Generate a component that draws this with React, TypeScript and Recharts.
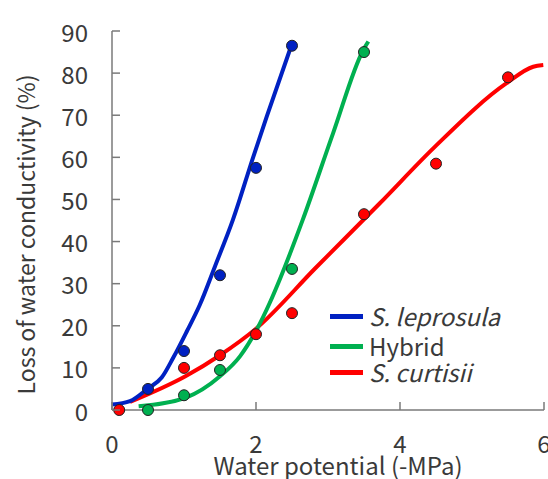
import { ComposedChart, Line, Scatter, XAxis, YAxis } from "recharts";

// measured points
const leprosulaX = [0.5, 1, 1.5, 2, 2.5];
const leprosulaY = [5, 14, 32, 57.5, 86.5];
const hybridX = [0.5, 1, 1.5, 2.5, 3.5];
const hybridY = [0, 3.5, 9.5, 33.5, 85];
const curtisiiX = [0.1, 1, 1.5, 2, 2.5, 3.5, 4.5, 5.5];
const curtisiiY = [0, 10, 13, 18, 23, 46.5, 58.5, 79];

// fitted curves
const leprosulaFitX = [0, 0.25, 0.5, 0.69, 0.85, 1.04, 1.22, 1.43, 1.68, 1.96, 2.15, 2.49];
const leprosulaFitY = [1.3, 2.1, 5.1, 7.7, 12.4, 18.7, 25, 34.1, 45.2, 60, 69.7, 86.5];
const hybridFitX = [0.37, 1.02, 1.5, 1.78, 2.01, 2.19, 2.33, 2.65, 3.07, 3.49, 3.56];
const hybridFitY = [0.9, 2.9, 8, 12.8, 19.1, 25.4, 31, 45.2, 65.7, 85.5, 87.5];
const curtisiiFitX = [0.25, 1.02, 1.5, 2.0, 2.82, 3.72, 4.49, 5.48, 5.85, 5.99];
const curtisiiFitY = [1.9, 8, 13, 19.3, 33.6, 49.1, 62.6, 77.6, 81.5, 81.9];

const xTicks = [0, 2, 4, 6];
const yTicks = [0, 10, 20, 30, 40, 50, 60, 70, 80, 90];
const seriesNames = ["S. leprosula", "Hybrid", "S. curtisii"];

const BLUE = "#0021C2";
const GREEN = "#00B050";
const RED = "#FF0000";
const AXIS = "#7a7a7a";
const TEXT = "#3a3a3a";
const FONT = "'Noto Sans CJK JP', 'Noto Sans', sans-serif";

const zip = (xs: number[], ys: number[]) => xs.map((x, i) => ({ x, y: ys[i] }));

const dot = (fill: string) => (p: any) => (
  <circle cx={p.cx} cy={p.cy} r={5.5} fill={fill} stroke="#222" strokeWidth={1} />
);

const YTick = ({ x, y, payload }: any) => (
  <g>
    <line x1={x} x2={x + 8} y1={y} y2={y} stroke={AXIS} strokeWidth={1.5} />
    <text x={x - 24} y={y} textAnchor="end" dominantBaseline="central" fontSize={24} fill={TEXT} fontFamily={FONT}>
      {payload.value}
    </text>
  </g>
);

const XTick = ({ x, y, payload }: any) => (
  <g>
    <line x1={x} x2={x} y1={y - 8} y2={y} stroke={AXIS} strokeWidth={1.5} />
    <text x={x} y={y + 32} textAnchor="middle" dominantBaseline="central" fontSize={24} fill={TEXT} fontFamily={FONT}>
      {payload.value}
    </text>
  </g>
);

const legendColors = [BLUE, GREEN, RED];
const legendTops = [316, 346, 372];

export default function App() {
  return (
    <div style={{ position: "absolute", left: 0, top: 0, width: 548, height: 479, fontFamily: FONT }}>
      <ComposedChart width={548} height={479} margin={{ top: 31, right: 4, bottom: 0, left: 0 }}>
        <XAxis
          type="number"
          dataKey="x"
          domain={[0, 6]}
          ticks={xTicks}
          height={69}
          tickSize={0}
          tickMargin={0}
          tickLine={false}
          tick={<XTick />}
          axisLine={{ stroke: AXIS, strokeWidth: 1.5 }}
          label={{ value: "Water potential (-MPa)", position: "insideBottom", dx: 10, dy: 1, fontSize: 24, fill: TEXT, fontFamily: FONT }}
        />
        <YAxis
          type="number"
          dataKey="y"
          domain={[0, 90]}
          ticks={yTicks}
          width={112}
          tickSize={0}
          tickMargin={0}
          tickLine={false}
          tick={<YTick />}
          axisLine={{ stroke: AXIS, strokeWidth: 1.5 }}
          label={{ value: "Loss of water conductivity (%)", angle: -90, position: "insideLeft", dx: 22, dy: 14, fontSize: 23, fill: TEXT, fontFamily: FONT, style: { textAnchor: "middle" } }}
        />
        <Scatter data={zip(curtisiiX, curtisiiY)} shape={dot(RED)} isAnimationActive={false} />
        <Line data={zip(curtisiiFitX, curtisiiFitY)} dataKey="y" type="monotone" stroke={RED} strokeWidth={4} dot={false} isAnimationActive={false} />
        <Line data={zip(hybridFitX, hybridFitY)} dataKey="y" type="monotone" stroke={GREEN} strokeWidth={4} dot={false} isAnimationActive={false} />
        <Scatter data={zip(hybridX, hybridY)} shape={dot(GREEN)} isAnimationActive={false} />
        <Line data={zip(leprosulaFitX, leprosulaFitY)} dataKey="y" type="monotone" stroke={BLUE} strokeWidth={4} dot={false} isAnimationActive={false} />
        <Scatter data={zip(leprosulaX, leprosulaY)} shape={dot(BLUE)} isAnimationActive={false} />
      </ComposedChart>
      {seriesNames.map((name, i) => (
        <div
          key={name}
          style={{ position: "absolute", left: 330, top: legendTops[i] - 12, height: 24, lineHeight: "24px", display: "flex", alignItems: "center", fontSize: 24, color: TEXT, fontStyle: i === 1 ? "normal" : "italic", whiteSpace: "nowrap" }}
        >
          <span style={{ display: "inline-block", width: 33, height: 5, background: legendColors[i], marginRight: 6 }} />
          {name}
        </div>
      ))}
    </div>
  );
}
